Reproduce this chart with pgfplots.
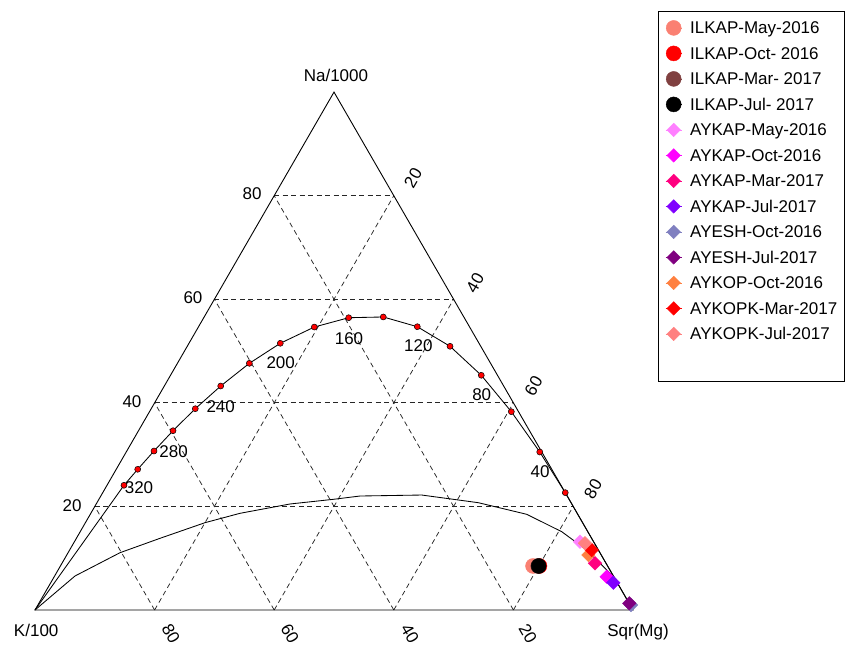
\documentclass[border=0pt]{standalone}
\usepackage{fontspec}
\setmainfont{Liberation Sans}
\usepackage{pgfplots}
\pgfplotsset{compat=1.18}
\usepackage{pgfplotstable}

\definecolor{cMay}{RGB}{250,128,114}
\definecolor{cOct}{RGB}{255,0,0}
\definecolor{cMar}{RGB}{128,64,64}
\definecolor{cJul}{RGB}{0,0,0}
\definecolor{aMay}{RGB}{255,128,255}
\definecolor{aOct}{RGB}{255,0,255}
\definecolor{aMar}{RGB}{255,0,128}
\definecolor{aJul}{RGB}{128,0,255}
\definecolor{eOct}{RGB}{128,128,192}
\definecolor{eJul}{RGB}{128,0,128}
\definecolor{kOct}{RGB}{255,128,64}
\definecolor{kMar}{RGB}{255,0,0}
\definecolor{kJul}{RGB}{255,128,128}

% ternary compositions (Na/1000, Sqr(Mg)) in percent; K/100 = 100 - Na - Mg
\pgfplotstableread{
Na Mg
0 0
24.08 2.84
27.17 3.59
30.70 4.55
34.62 5.77
38.87 7.37
43.25 9.43
47.63 12.03
51.50 15.27
54.64 19.39
56.44 24.24
56.58 29.95
54.70 36.58
50.92 43.94
45.32 51.97
38.29 60.51
30.51 69.15
22.66 77.34
0 100
}\fulleq
\pgfplotstableread{
Na Mg
24.08 2.84
27.17 3.59
30.70 4.55
34.62 5.77
38.87 7.37
43.25 9.43
47.63 12.03
51.50 15.27
54.64 19.39
56.44 24.24
56.58 29.95
54.70 36.58
50.92 43.94
45.32 51.97
38.29 60.51
30.51 69.15
22.66 77.34
}\eqdots
\pgfplotstableread{
Na Mg
0 0
6.57 3.41
11.06 8.68
13.84 13.98
16.86 20.00
18.67 24.95
20.47 32.41
21.37 39.20
22.01 43.35
22.20 53.56
20.72 63.77
18.48 72.98
15.12 80.52
11.58 86.47
5.80 94.37
}\partialeq

\pgfplotsset{
  table/tern/.style={/pgfplots/table/x expr=\thisrow{Mg}+0.5*\thisrow{Na},
                     /pgfplots/table/y expr=0.866025*\thisrow{Na}},
  circ/.style={only marks, mark=*, mark size=7.5pt, color=#1,
    legend image code/.code={\path (-8pt,0pt) -- (8pt,0pt);\draw[##1] plot coordinates {(0pt,0pt)};}},
  diam/.style={only marks, mark=square*, mark size=4.8pt, mark options={rotate=45}, color=#1,
    legend image code/.code={\path (-8pt,0pt) -- (8pt,0pt);\draw[##1] plot coordinates {(0pt,0pt)};}},
  gridl/.style={forget plot, black!85, line width=0.75pt, dash pattern=on 5pt off 3.5pt},
}

\begin{document}
\fontsize{17pt}{20pt}\selectfont
\begin{tikzpicture}
\begin{axis}[
  scale only axis, width=849pt, height=647pt,
  xmin=-5.853, xmax=136.120, ymin=-6.187, ymax=102.007,
  hide axis, clip=false,
  legend style={at={(axis cs:105.40,98.71)}, anchor=north west, draw=none, fill=none,
    inner sep=0pt, row sep=9.5pt, column sep=8.3pt,
    font=\fontsize{17pt}{20pt}\selectfont,
    nodes={inner sep=0pt, text height=14pt, text depth=2pt}},
  legend cell align=left,
]
% full picture area
\path (axis cs:-5.853,-6.187) rectangle (axis cs:136.120,102.007);
% dashed grid
\addplot[gridl] coordinates {(10,17.3205) (90,17.3205)};
\addplot[gridl] coordinates {(20,34.641) (80,34.641)};
\addplot[gridl] coordinates {(30,51.9615) (70,51.9615)};
\addplot[gridl] coordinates {(40,69.282) (60,69.282)};
\addplot[gridl] coordinates {(20,0) (60,69.282)};
\addplot[gridl] coordinates {(40,0) (70,51.9615)};
\addplot[gridl] coordinates {(60,0) (80,34.641)};
\addplot[gridl] coordinates {(80,0) (90,17.3205)};
\addplot[gridl] coordinates {(80,0) (40,69.282)};
\addplot[gridl] coordinates {(60,0) (30,51.9615)};
\addplot[gridl] coordinates {(40,0) (20,34.641)};
\addplot[gridl] coordinates {(20,0) (10,17.3205)};
% triangle
\addplot[forget plot, black, line width=0.9pt, line join=miter] coordinates {(0,0) (100,0) (50,86.6025) (0,0) (100,0)};

% samples
\addplot[circ=cMay] table[tern] {
Na Mg
8.50 79.03
};
\addlegendentry{ILKAP-May-2016}
\addplot[circ=cOct] table[tern] {
Na Mg
8.50 80.11
};
\addlegendentry{ILKAP-Oct- 2016}
\addplot[circ=cMar] table[tern] {
Na Mg
8.50 79.90
};
\addlegendentry{ILKAP-Mar- 2017}
\addplot[circ=cJul] table[tern] {
Na Mg
8.50 79.98
};
\addlegendentry{ILKAP-Jul- 2017}
\addplot[diam=aMay] table[tern] {
Na Mg
13.19 84.54
};
\addlegendentry{AYKAP-May-2016}
\addplot[diam=aOct] table[tern] {
Na Mg
6.43 92.39
};
\addlegendentry{AYKAP-Oct-2016}
\addplot[diam=aMar] table[tern] {
Na Mg
9.02 89.14
};
\addlegendentry{AYKAP-Mar-2017}
\addplot[diam=aJul] table[tern] {
Na Mg
5.27 94.07
};
\addlegendentry{AYKAP-Jul-2017}
\addplot[diam=eOct] table[tern] {
Na Mg
0.96 99.19
};
\addlegendentry{AYESH-Oct-2016}
\addplot[diam=eJul] table[tern] {
Na Mg
1.29 98.73
};
\addlegendentry{AYESH-Jul-2017}
\addplot[diam=kOct] table[tern] {
Na Mg
10.62 87.22
};
\addlegendentry{AYKOP-Oct-2016}
\addplot[diam=kMar] table[tern] {
Na Mg
11.59 87.30
};
\addlegendentry{AYKOPK-Mar-2017}
\addplot[diam=kJul] table[tern] {
Na Mg
12.88 85.53
};
\addlegendentry{AYKOPK-Jul-2017}

% equilibrium curves
\addplot[forget plot, black, line width=0.85pt] table[tern] {\fulleq};
\addplot[forget plot, black, line width=0.85pt] table[tern] {\partialeq};
\addplot[forget plot, only marks, mark=*, mark size=3pt, mark options={fill=red, draw=black, line width=0.5pt}] table[tern] {\eqdots};

% legend frame
\draw[black, line width=0.9pt] (axis cs:104.18,100.17) rectangle (axis cs:135.28,38.29);

% vertex labels
\node[anchor=base] at (axis cs:50.33,88.46) {Na/1000};
\node[anchor=base] at (axis cs:0.2,-4.45) {K/100};
\node[anchor=base] at (axis cs:100.84,-4.45) {Sqr(Mg)};

% left labels (Na)
\node[inner sep=0pt] at (axis cs:36.29,69.57) {80};
\node[inner sep=0pt] at (axis cs:26.42,52.17) {60};
\node[inner sep=0pt] at (axis cs:16.22,34.78) {40};
\node[inner sep=0pt] at (axis cs:6.19,17.39) {20};
% right labels (Mg)
\node[inner sep=0pt, rotate=60] at (axis cs:63.21,72.24) {20};
\node[inner sep=0pt, rotate=60] at (axis cs:73.58,54.68) {40};
\node[inner sep=0pt, rotate=60] at (axis cs:83.36,37.46) {60};
\node[inner sep=0pt, rotate=60] at (axis cs:93.31,20.23) {80};
% bottom labels (K)
\node[inner sep=0pt, rotate=-60] at (axis cs:22.74,-4.01) {80};
\node[inner sep=0pt, rotate=-60] at (axis cs:42.64,-4.01) {60};
\node[inner sep=0pt, rotate=-60] at (axis cs:62.71,-4.01) {40};
\node[inner sep=0pt, rotate=-60] at (axis cs:82.44,-4.01) {20};

% temperature labels
\node[inner sep=0pt] at (axis cs:17.39,20.40) {320};
\node[inner sep=0pt] at (axis cs:23.19,26.47) {280};
\node[inner sep=0pt] at (axis cs:31.05,34.00) {240};
\node[inner sep=0pt] at (axis cs:41.09,41.42) {200};
\node[inner sep=0pt] at (axis cs:52.51,45.43) {160};
\node[inner sep=0pt] at (axis cs:64.10,44.20) {120};
\node[inner sep=0pt] at (axis cs:74.70,35.95) {80};
\node[inner sep=0pt] at (axis cs:84.45,23.13) {40};
\end{axis}
\end{tikzpicture}
\end{document}
